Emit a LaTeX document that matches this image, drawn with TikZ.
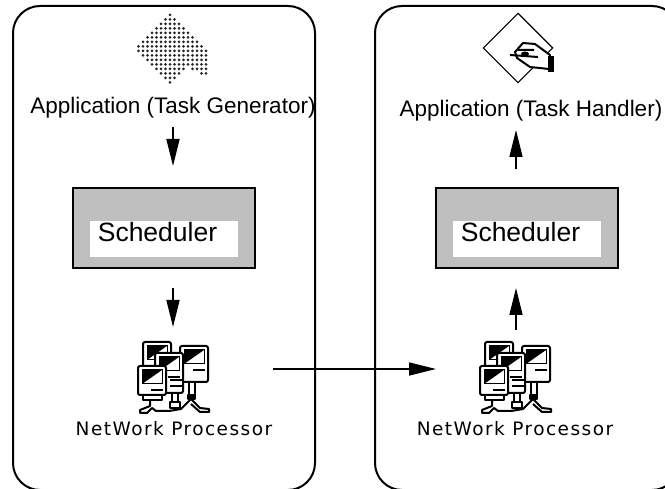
\documentclass[tikz,border=0pt]{standalone}
\usepackage{fontspec}
\setmainfont{Liberation Sans}
\newfontfamily\netfont[LetterSpace=8]{DejaVu Sans}
\usetikzlibrary{arrows.meta, positioning, calc}
\tikzset{
  hostbox/.style={draw, line width=2pt, rounded corners=27pt},
  schedbox/.style={draw, line width=2pt, fill=black!25, minimum width=182pt, minimum height=80pt},
  schedtext/.style={fill=white, font=\fontsize{26.5}{30}\selectfont, minimum width=148pt, minimum height=36pt, inner sep=0pt},
  applabel/.style={font=\fontsize{22.5}{26}\selectfont, inner sep=0pt},
  netlabel/.style={font=\netfont\fontsize{18.5}{20}\selectfont, inner sep=0pt},
  flow/.style={line width=1.5pt, -{Triangle[length=27pt, width=13pt]}},
  iconline/.style={line width=2pt, line join=round},
}
% one small computer of the network icon
\newcommand{\pcicon}[3]{
  \filldraw[fill=white, iconline, rounded corners=2pt] (#1,#2) rectangle ++(28,#3);
  \fill (#1+4,#2+4) -- ++(20,0) -- ++(-20,14) -- cycle;
  \draw[line width=1pt] (#1+4,#2+4) rectangle ++(20,14);
  \draw[iconline] (#1+13,#2+24) -- ++(12,0);
}
\newcommand{\neticon}[2]{
  \begin{scope}[shift={(#1,#2)}]
    % cables and feet
    \draw[iconline] (12,56) -- (12,64) -- (2,68) -- (2,71) -- (9,71) -- (14,66) -- (18,69) -- (31,69) -- (43,67) -- (53,57)
      -- (62,66) -- (71,67) -- (71,70) -- (62,70) -- (53,62);
    \draw[iconline] (34,50) -- (34,62) (40,50) -- (40,62);
    \draw[iconline] (51,40) -- (51,54) (57,40) -- (57,54);
    \filldraw[fill=black, iconline] (50,53) rectangle (57,57);
    \filldraw[fill=white, iconline] (32,60) rectangle (42,66);
    \pcicon{5}{0}{30}
    \pcicon{42}{4}{36}
    \pcicon{17}{11}{40}
    \draw[iconline] (32,38) -- (45,38) (32,44) -- (45,44);
    \pcicon{0}{24}{29}
    \filldraw[fill=white, iconline] (5,53) rectangle (24,58);
  \end{scope}
}
\begin{document}
\begin{tikzpicture}[x=1pt, y=-1pt]
  \useasboundingbox (0,0) rectangle (665,489);
  \begin{scope}
    \clip (0,0) rectangle (665,489);
    \draw[hostbox] (13,6) rectangle (315,490);
    \draw[hostbox] (375,6) rectangle (679,490);
  \end{scope}

  % left column
  \node[inner sep=0pt] (genicon) at (170,15) {};
  \foreach \k/\first/\last in {-7/7/8, -6/6/9, -5/5/10, -4/4/11, -3/3/12, -2/2/13, -1/1/14, 0/0/15,
      1/1/14, 2/2/13, 3/3/12, 4/4/11, 5/5/12, 6/6/12, 7/7/13, 8/8/13} {
    \foreach \n in {\first,...,\last} {
      \fill[black!85] ($(genicon)+(\k*4.5,\n*4.5)$) circle (1.5pt);
    }
  }
  \node[applabel] (gen) at (173,107.5) {Application (Task Generator)};
  \node[schedbox] (leftsched) at (164,228) {};
  \node[schedtext] (leftschedtxt) at (164,239) {};
  \node[font=\fontsize{26.5}{30}\selectfont, inner sep=0pt] (leftschedlabel) at (157.5,232) {Scheduler};
  \node[netlabel] (leftproc) at (174,429) {NetWork Processor};
  \neticon{138}{342}

  % right column
  \node[draw, line width=1.2pt, minimum size=49pt, inner sep=0pt, rotate=45] (handicon) at (518,48) {};
  \filldraw[fill=white, iconline] (515,52) -- (523,43) -- (535,44) -- (550,55) -- (549,69) -- (530,67) -- (517,58) -- cycle;
  \draw[iconline] (510,55) -- (538,57) (518,50) -- (534,50);
  \fill (525,54) ellipse (4pt and 2.5pt);
  \fill (548,56) rectangle (554,72);
  \node[applabel] (hand) at (531,111) {Application (Task Handler)};
  \node[schedbox] (rightsched) at (527,228) {};
  \node[schedtext] (rightschedtxt) at (527,239) {};
  \node[font=\fontsize{26.5}{30}\selectfont, inner sep=0pt] (rightschedlabel) at (520.5,232) {Scheduler};
  \node[netlabel] (rightproc) at (515,429) {NetWork Processor};
  \neticon{480}{342}

  % arrows
  \coordinate (a1) at (173,127);
  \coordinate (a2) at (173,166);
  \draw[flow] (a1) -- (a2);
  \coordinate (a3) at (173,288);
  \coordinate (a4) at (173,327);
  \draw[flow] (a3) -- (a4);
  \coordinate (a5) at (516,330);
  \coordinate (a6) at (516,288);
  \draw[flow] (a5) -- (a6);
  \coordinate (a7) at (516,169);
  \coordinate (a8) at (516,130);
  \draw[flow] (a7) -- (a8);
  \coordinate (a9) at (273,369);
  \coordinate (a10) at (436,369);
  \draw[flow] (a9) -- (a10);
\end{tikzpicture}
\end{document}
